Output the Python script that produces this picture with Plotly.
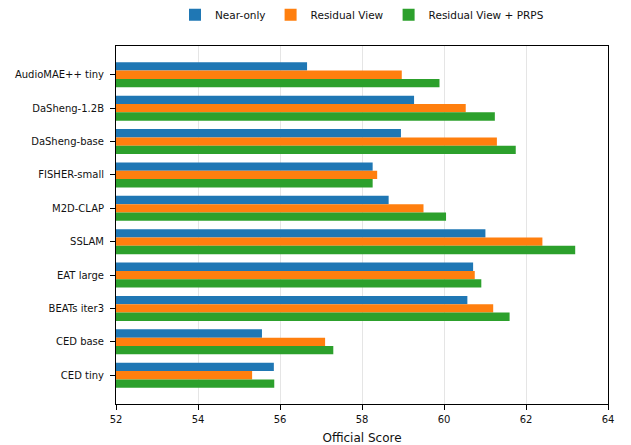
import plotly.graph_objects as go

categories = ["AudioMAE++ tiny", "DaSheng-1.2B", "DaSheng-base", "FISHER-small", "M2D-CLAP",
              "SSLAM", "EAT large", "BEATs iter3", "CED base", "CED tiny"]
near_only = [56.66, 59.27, 58.95, 58.26, 58.65, 61.01, 60.71, 60.57, 55.56, 55.85]
residual_view = [58.97, 60.53, 61.29, 58.37, 59.50, 62.40, 60.75, 61.20, 57.10, 55.32]
residual_prps = [59.89, 61.24, 61.75, 58.26, 60.05, 63.20, 60.91, 61.60, 57.30, 55.86]
series_names = ["Near-only", "Residual View", "Residual View + PRPS"]
colors = ["#1f77b4", "#ff7f0e", "#2ca02c"]
x_ticks = [52, 54, 56, 58, 60, 62, 64]

fig = go.Figure()
for name, vals, c in zip(series_names, [near_only, residual_view, residual_prps], colors):
    fig.add_trace(go.Bar(
        y=categories, x=[v - 52 for v in vals], base=52, orientation="h", name=name,
        marker=dict(color=c, line=dict(width=0)),
    ))

font = "DejaVu Sans, Arial, sans-serif"
fig.update_layout(
    width=631, height=445,
    margin=dict(l=116, r=23, t=46, b=41, autoexpand=False),
    paper_bgcolor="white", plot_bgcolor="white",
    barmode="group", bargap=0.25, bargroupgap=0,
    font=dict(family=font, size=10, color="#111111"),
    showlegend=True,
    legend=dict(orientation="h", x=0.5, xanchor="center", y=1.087, yref="paper",
                yanchor="middle", font=dict(size=10.5), itemwidth=30,
                tracegroupgap=0, traceorder="normal"),
    xaxis=dict(range=[52, 64], tickvals=x_ticks, ticks="outside", ticklen=5,
               tickcolor="black", showline=True, linecolor="black", linewidth=1,
               mirror=True, showgrid=True, gridcolor="rgba(0,0,0,0.1)", zeroline=False,
               automargin=False, ticklabelstandoff=1,
               title=dict(text="Official Score", font=dict(size=12), standoff=9)),
    yaxis=dict(categoryorder="array", categoryarray=categories, automargin=False,
               range=[9.8625, -0.8625], ticks="outside", ticklen=5, tickcolor="black",
               ticklabelstandoff=4,
               showline=True, linecolor="black", linewidth=1, mirror=True,
               showgrid=False, zeroline=False),
)
fig.write_html("out.html", config={"displayModeBar": False},
               post_script="document.body.style.margin='0';")
